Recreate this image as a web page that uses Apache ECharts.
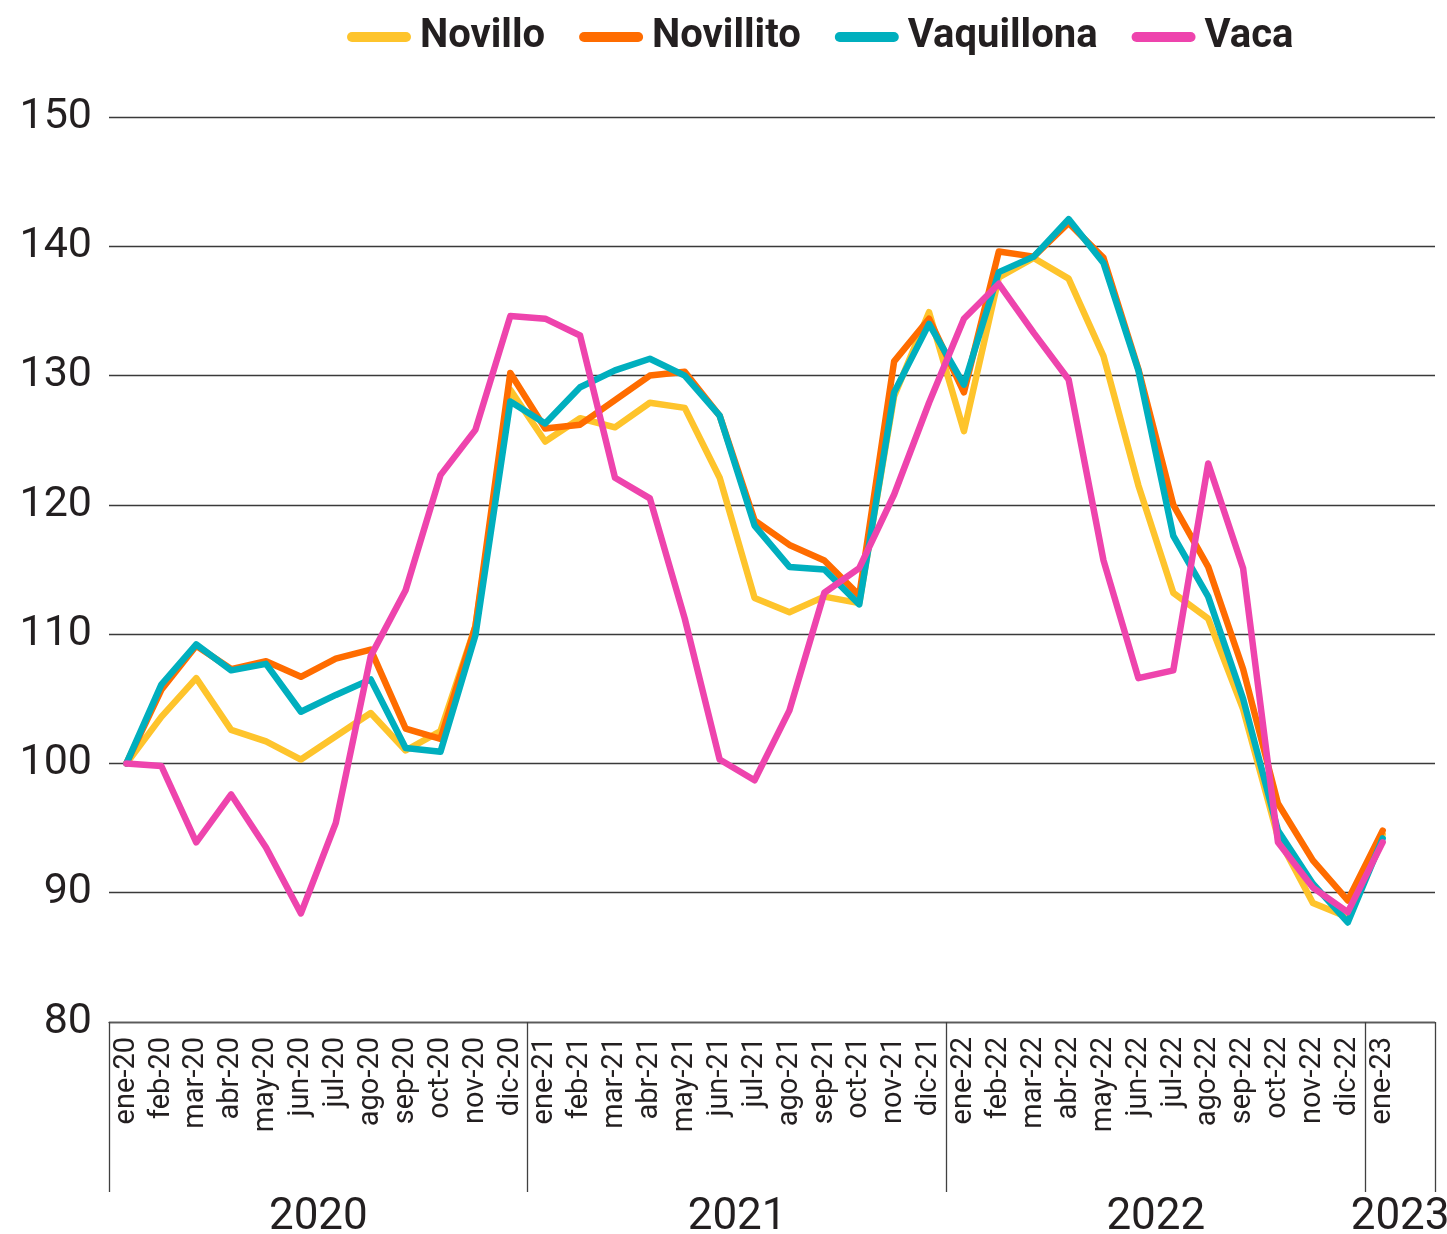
<!DOCTYPE html>
<html>
<head>
<meta charset="utf-8">
<script src="https://cdn.jsdelivr.net/npm/echarts@6/dist/echarts.min.js"></script>
<style>
  html, body { margin: 0; padding: 0; background: #ffffff; }
  #chart { width: 1447px; height: 1234px; }
</style>
</head>
<body>
<div id="chart"></div>
<script>
// ---- Data ----
const months = [
  'ene-20','feb-20','mar-20','abr-20','may-20','jun-20','jul-20','ago-20','sep-20','oct-20','nov-20','dic-20',
  'ene-21','feb-21','mar-21','abr-21','may-21','jun-21','jul-21','ago-21','sep-21','oct-21','nov-21','dic-21',
  'ene-22','feb-22','mar-22','abr-22','may-22','jun-22','jul-22','ago-22','sep-22','oct-22','nov-22','dic-22',
  'ene-23'
];
const seriesNames = ['Novillo', 'Novillito', 'Vaquillona', 'Vaca'];
const novillo = [100,103.6,106.6,102.6,101.7,100.3,102.1,103.9,101.0,102.5,110.6,128.9,
  124.9,126.7,126.0,127.9,127.5,122.1,112.8,111.7,112.9,112.4,128.4,134.9,
  125.7,137.6,139.1,137.5,131.5,121.5,113.2,111.2,104.2,94.3,89.2,88.1,94.5];
const novillito = [100,105.7,109.1,107.3,107.9,106.7,108.1,108.8,102.7,101.9,110.6,130.2,
  125.9,126.2,128.1,130.0,130.3,126.9,118.8,116.9,115.7,113.0,131.1,134.4,
  128.7,139.6,139.2,141.8,139.1,130.5,120.0,115.2,107.3,96.9,92.5,89.4,94.8];
const vaquillona = [100,106.1,109.2,107.2,107.7,104.0,105.3,106.5,101.2,100.9,109.9,128.0,
  126.3,129.1,130.4,131.3,130.0,126.9,118.4,115.2,115.0,112.3,128.7,134.0,
  129.3,138.0,139.2,142.1,138.7,130.4,117.6,112.9,105.0,94.8,90.7,87.7,94.2];
const vaca = [100,99.8,93.9,97.6,93.5,88.4,95.4,108.3,113.4,122.3,125.8,134.6,
  134.4,133.1,122.1,120.5,111.2,100.3,98.7,104.1,113.2,115.1,120.8,127.9,
  134.4,137.1,133.3,129.7,115.7,106.6,107.2,123.2,115.1,93.9,90.4,88.5,93.9];
const yearLabels = ['2020', '2021', '2022', '2023'];
// year group boundaries, counted in months (the 2023 group has one trailing empty slot)
const yearBounds = [0, 12, 24, 36, 38];
const yAxisMin = 80, yAxisMax = 150, yAxisStep = 10;

// ---- Build ----
const monthsAxis = months.concat(['']);
const yearCenters = yearLabels.map((_, i) => (yearBounds[i] + yearBounds[i + 1]) / 2);
const colors = ['#FEC42C', '#FF6C00', '#00AFBE', '#EE44AD'];
const values = [novillo, novillito, vaquillona, vaca];
const FONT = 'Roboto';
const TXT = '#231f20';

const chart = echarts.init(document.getElementById('chart'), null, { renderer: 'canvas' });
chart.setOption({
  animation: false,
  backgroundColor: '#ffffff',
  legend: {
    data: seriesNames,
    left: 342,
    top: 12,
    itemWidth: 64,
    itemHeight: 10,
    itemGap: 34,
    icon: 'path://M5 0H59A5 5 0 0 1 59 10H5A5 5 0 0 1 5 0Z',
    textStyle: { fontFamily: FONT, fontWeight: 'bold', fontSize: 40, color: TXT, padding: [0, 0, 0, 4] }
  },
  grid: { left: 109, right: 12, top: 117, bottom: 212, containLabel: false, outerBoundsMode: 'none' },
  xAxis: [
    {
      type: 'category',
      data: monthsAxis,
      boundaryGap: true,
      axisLine: { show: true, lineStyle: { color: '#5a5a5a', width: 1.3 } },
      axisTick: { show: false },
      axisLabel: { interval: 0, rotate: 90, fontFamily: FONT, fontSize: 29, color: TXT, margin: 15 },
      splitLine: { show: false }
    },
    {
      type: 'value',
      min: 0,
      max: monthsAxis.length,
      position: 'bottom',
      axisLine: { show: false },
      splitLine: { show: false },
      axisTick: { show: true, customValues: yearBounds, length: 170, inside: false,
                  lineStyle: { color: '#404040', width: 1.3 } },
      axisLabel: {
        show: true,
        customValues: yearCenters,
        formatter: function (v) { const i = yearCenters.indexOf(v); return i >= 0 ? yearLabels[i] : ''; },
        fontFamily: FONT, fontSize: 44, color: TXT, margin: 174
      }
    }
  ],
  yAxis: {
    type: 'value',
    min: yAxisMin,
    max: yAxisMax,
    interval: yAxisStep,
    axisLine: { show: false },
    axisTick: { show: false },
    axisLabel: { fontFamily: FONT, fontSize: 43, color: TXT, margin: 17 },
    splitLine: { show: true, lineStyle: { color: '#3a3a3a', width: 1.3 } }
  },
  series: seriesNames.map((name, i) => ({
    name: name,
    type: 'line',
    xAxisIndex: 0,
    yAxisIndex: 0,
    data: values[i],
    color: colors[i],
    showSymbol: false,
    symbol: 'none',
    lineStyle: { width: 6.5, color: colors[i], join: 'round', cap: 'round' },
    z: 2 + i
  }))
});
</script>
</body>
</html>
